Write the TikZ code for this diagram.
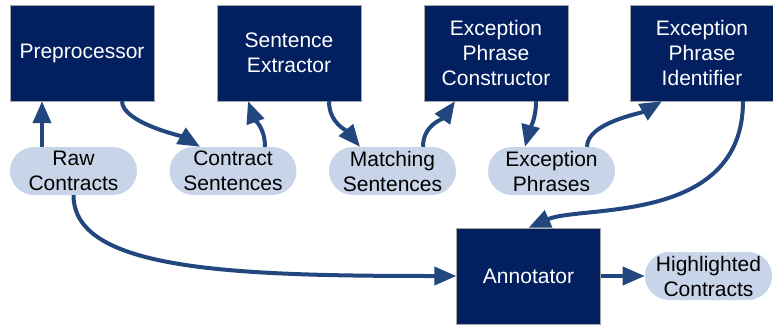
\documentclass[tikz,border=0pt]{standalone}
\usepackage{fontspec}
\setmainfont{Liberation Sans}
\usetikzlibrary{shapes.misc,arrows.meta}
\definecolor{navy}{RGB}{2,32,96}
\definecolor{pillblue}{RGB}{200,213,232}
\definecolor{flowblue}{RGB}{33,71,126}
\begin{document}
\begin{tikzpicture}[
  proc/.style={draw=gray!70, fill=navy, text=white, rectangle, minimum height=96pt, minimum width=144pt, align=center, font=\fontsize{21}{25}\selectfont},
  data/.style={fill=pillblue, rounded rectangle, minimum height=48pt, minimum width=127pt, inner sep=0pt, align=center, font=\fontsize{21}{25}\selectfont},
  flow/.style={draw=flowblue, line width=4pt, -{Triangle[length=22pt,width=18pt]}}]
\useasboundingbox (0,0) rectangle (773pt,-327pt);
% processing steps
\node (prep) [proc] at (82pt,-53pt) {Preprocessor};
\node (sext) [proc, node distance=207pt, right of=prep] {Sentence\\Extractor};
\node (epc) [proc, node distance=207pt, right of=sext] {Exception\\Phrase\\Constructor};
\node (epi) [proc, node distance=206pt, right of=epc] {Exception\\Phrase\\Identifier};
\node (ann) [proc, node distance=223pt, below of=epc, xshift=32.5pt] {Annotator};
% data
\node (raw) [data, node distance=118pt, below of=prep, xshift=-8.5pt] {Raw\\Contracts};
\node (cs) [data, node distance=159.5pt, right of=raw] {Contract\\Sentences};
\node (ms) [data, node distance=159.5pt, right of=cs] {Matching\\Sentences};
\node (ep) [data, node distance=159pt, right of=ms] {Exception\\Phrases};
\node (hc) [data, node distance=180pt, right of=ann] {Highlighted\\Contracts};
% flows
\draw [flow] ([xshift=-31.5pt]raw.north) -- ([xshift=-40pt]prep.south);
\draw [flow] ([xshift=40pt]prep.south) to[out=-90,in=150,looseness=0.6] ([xshift=-33pt]cs.north);
\draw [flow] ([xshift=32pt]cs.north) to[out=90,in=-70] ([xshift=-41pt]sext.south);
\draw [flow] ([xshift=40pt]sext.south) to[out=-90,in=130] ([xshift=-32.5pt]ms.north);
\draw [flow] ([xshift=30.5pt]ms.north) to[out=90,in=-125] ([xshift=-41pt]epc.south);
\draw [flow] ([xshift=40pt]epc.south) to[out=-90,in=75] ([xshift=-26.5pt]ep.north);
\draw [flow] ([xshift=35.5pt]ep.north) to[out=90,in=-150,looseness=0.7] ([xshift=-40pt]epi.south);
\draw [flow] ([xshift=41pt]epi.south) .. controls +(0,-124pt) and +(52pt,23pt) .. (ann.north);
\draw [flow] (raw.south) .. controls +(0,-75pt) and +(-226pt,0pt) .. (ann.west);
\draw [flow] (ann.east) -- (hc.west);
\end{tikzpicture}
\end{document}
